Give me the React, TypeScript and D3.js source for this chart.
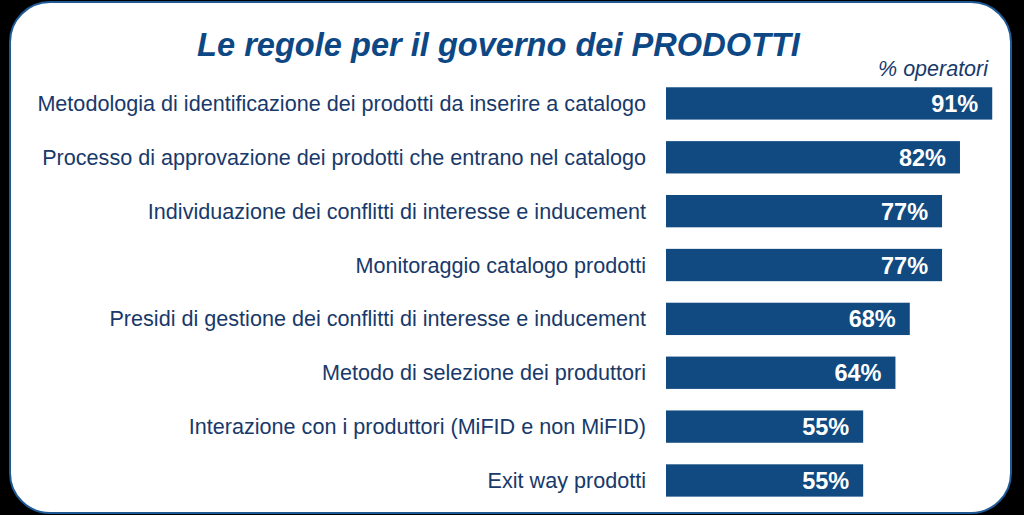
import React from "react";
import * as d3 from "d3";

const categories = [
  "Metodologia di identificazione dei prodotti da inserire a catalogo",
  "Processo di approvazione dei prodotti che entrano nel catalogo",
  "Individuazione dei conflitti di interesse e inducement",
  "Monitoraggio catalogo prodotti",
  "Presidi di gestione dei conflitti di interesse e inducement",
  "Metodo di selezione dei produttori",
  "Interazione con i produttori (MiFID e non MiFID)",
  "Exit way prodotti",
];
const values = [91, 82, 77, 77, 68, 64, 55, 55];
const title = "Le regole per il governo dei PRODOTTI";
const unitLabel = "% operatori";

const W = 1024;
const H = 515;
const BAR = "#104a80";
const TEXT = "#18396a";
const TITLE = "#0d4885";

export default function App() {
  const y = d3
    .scaleBand<string>()
    .domain(categories)
    .range([76.5, 507.4])
    .paddingInner(0.4)
    .paddingOuter(0.2);
  const x = d3.scaleLinear().domain([0, 100]).range([666, 1024.5]);
  const bw = y.bandwidth();

  return (
    <svg
      width={W}
      height={H}
      style={{ position: "absolute", left: 0, top: 0, display: "block" }}
      fontFamily="Arial, 'Liberation Sans', sans-serif"
    >
      <rect x={0} y={0} width={W} height={H} fill="#000" />
      <rect
        x={10}
        y={2}
        width={1001}
        height={511}
        rx={40}
        ry={40}
        fill="#fff"
        stroke="#1f5a96"
        strokeWidth={2}
      />
      <text
        x={498.5}
        y={56}
        textAnchor="middle"
        fontSize={32.6}
        fontWeight="bold"
        fontStyle="italic"
        fill={TITLE}
      >
        {title}
      </text>
      <text
        x={988}
        y={76}
        textAnchor="end"
        fontSize={21.5}
        fontStyle="italic"
        fill={TEXT}
      >
        {unitLabel}
      </text>
      {categories.map((c, i) => {
        const yy = y(c) as number;
        const v = values[i];
        return (
          <g key={c}>
            <text
              x={646}
              y={yy + bw / 2 + 7.5}
              textAnchor="end"
              fontSize={21.6}
              fill={TEXT}
            >
              {c}
            </text>
            <rect x={x(0)} y={yy} width={x(v) - x(0)} height={bw} fill={BAR} />
            <text
              x={x(v) - 14}
              y={yy + bw / 2 + 8.5}
              textAnchor="end"
              fontSize={23.5}
              fontWeight="bold"
              fill="#fff"
            >
              {v}%
            </text>
          </g>
        );
      })}
    </svg>
  );
}
